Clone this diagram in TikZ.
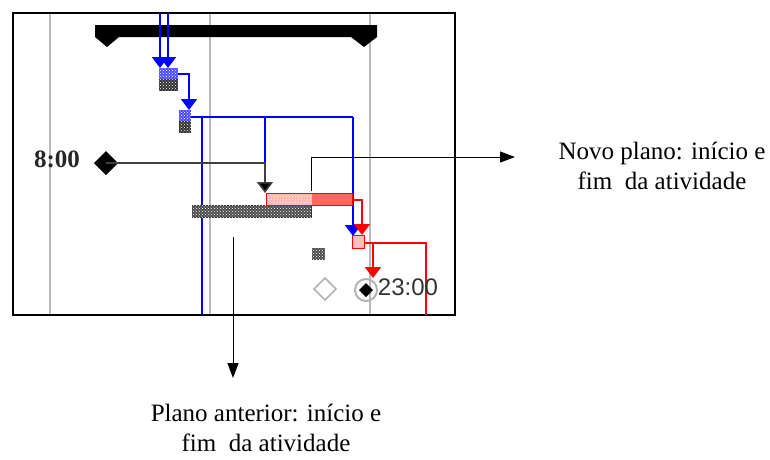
\documentclass[tikz,border=0pt]{standalone}
\usepackage{fontspec}
\setmainfont{Liberation Serif}
\setsansfont{Liberation Sans}
\usetikzlibrary{arrows.meta, patterns, positioning}

\begin{document}
\begin{tikzpicture}[x=1pt, y=-1pt, every node/.style={inner sep=0pt},
  gridline/.style={draw=gray!55, line width=2pt},
  bluelink/.style={draw=blue, line width=1.5pt},
  redlink/.style={draw=red, line width=1.5pt},
  blacklink/.style={draw=black!75, line width=1.5pt},
  tip/.style={-{Triangle[width=16pt,length=11pt]}},
  callout/.style={draw=black, line width=1pt, -{Triangle[width=11pt,length=15pt]}},
  dotted fill/.style={postaction={pattern=crosshatch dots, pattern color=white}},
  note/.style={align=center, font=\fontsize{25}{30}\selectfont}]
\useasboundingbox (0,0) rectangle (770,459);
% Gantt frame and grid
\draw[line width=1.5pt] (13,13) rectangle (455,315);
\foreach \gx in {50,210,370}
  \draw[gridline] (\gx,14) -- (\gx,314);
% Summary bar
\fill (95,25) -- (377,25) -- (377,37) -- (364,47) -- (351,37)
   -- (119,37) -- (107,47) -- (95,37) -- cycle;
% Links from the top into the first task
\draw[bluelink, tip] (160,13) -- (160,68);
\draw[bluelink, tip] (168,13) -- (168,68);
% Task 1 and task 2 (small boxes)
\fill[blue!70, dotted fill] (159,68) rectangle (178,79);
\fill[black!80, dotted fill] (159,79) rectangle (178,91);
\draw[bluelink, tip] (178,74) -- (189,74) -- (189,110);
\fill[blue!70, dotted fill] (179,110) rectangle (191,121);
\fill[black!80, dotted fill] (179,121) rectangle (191,133);
% Blue links out of task 2
\draw[bluelink] (191,117) -- (353,117);
\draw[bluelink] (202,117) -- (202,315);
\draw[bluelink] (265,117) -- (265,163);
\draw[bluelink, tip] (353,117) -- (353,236);
% Milestone 8:00
\node[font=\fontsize{25}{25}\selectfont\bfseries, text=black!85] (start) at (57,159) {8:00};
\fill (106,151) -- (118,163) -- (106,175) -- (94,163) -- cycle;
\draw[blacklink, tip, -{Triangle[width=16pt,length=11pt,fill=black]}] (106,163) -- (265,163) -- (265,193);
% Old plan bar (grey) and new plan bar (red)
\fill[black!70, dotted fill, draw=black!80] (192,205) rectangle (311,217);
\fill[red!60] (266,193) rectangle (352,205);
\fill[red!30, dotted fill] (266,193) rectangle (312,205);
\draw[red, line width=1pt] (266,193) rectangle (352,205);
% Red links to the next task
\draw[redlink, tip] (352,200) -- (362,200) -- (362,235);
\fill[red!25, draw=red, line width=1pt] (352,235) rectangle (364,248);
\draw[redlink] (364,243) -- (426,243) -- (426,315);
\draw[redlink, tip] (373,243) -- (373,278);
% Other small task and end milestones
\fill[black!70, dotted fill] (312,248) rectangle (325,260);
\draw[gray!60, line width=1.5pt] (325,278) -- (336,289) -- (325,300) -- (314,289) -- cycle;
\draw[gray!60, line width=2pt] (366,290) circle (11);
\fill (366,283) -- (373,290) -- (366,297) -- (359,290) -- cycle;
\node[font=\sffamily\fontsize{24}{24}\selectfont, text=black!80] (finish) at (408,287) {23:00};
% Callouts
\node[note] (novo) at (662,166) {Novo plano: início e\\fim\ \ da atividade};
\node[note] (anterior) at (266,428) {Plano anterior: início e\\fim\ \ da atividade};
\coordinate (novoFoot) at (311,191);
\coordinate (novoTip) at (515,157);
\coordinate (anteriorFoot) at (233,237);
\coordinate (anteriorTip) at (233,378);
\draw[callout] (novoFoot) |- (novoTip);
\draw[callout] (anteriorFoot) -- (anteriorTip);
\end{tikzpicture}
\end{document}
